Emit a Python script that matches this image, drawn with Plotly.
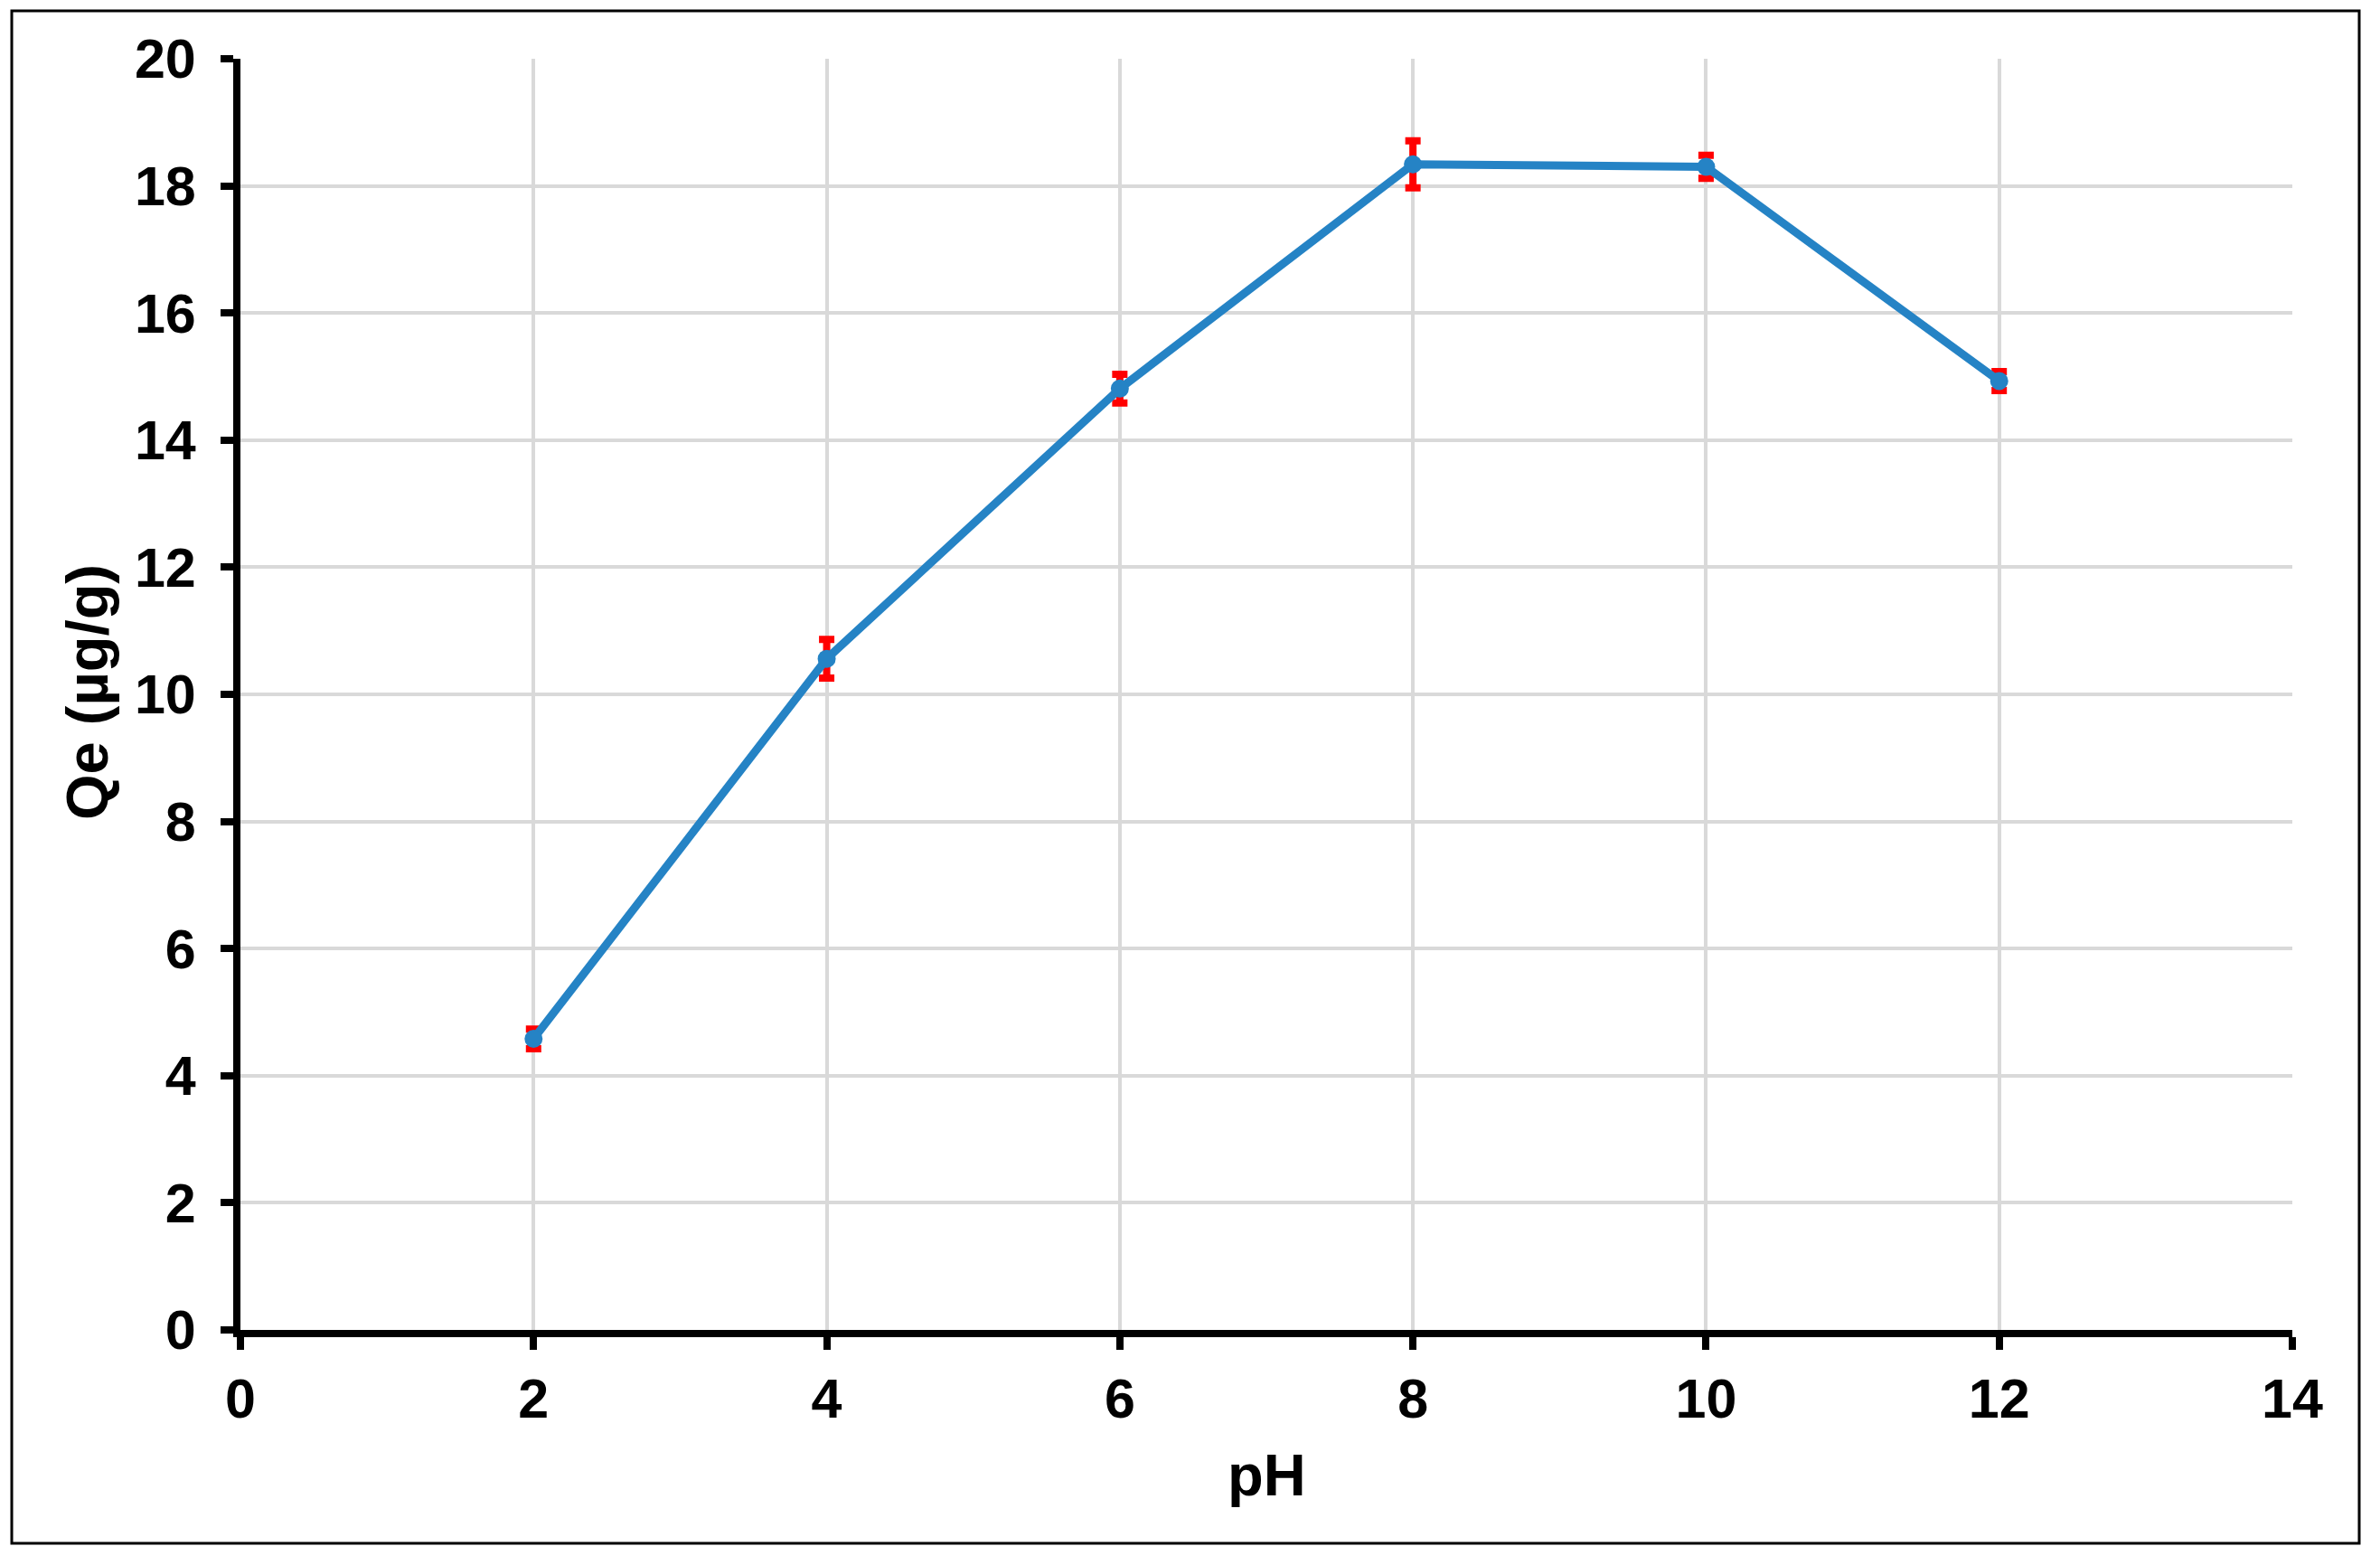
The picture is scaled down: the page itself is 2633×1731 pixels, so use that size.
import plotly.graph_objects as go

ph = [2, 4, 6, 8, 10, 12]
qe = [4.58, 10.56, 14.81, 18.34, 18.30, 14.93]
qe_err = [0.155, 0.305, 0.225, 0.37, 0.18, 0.15]

x_ticks = [0, 2, 4, 6, 8, 10, 12, 14]
y_ticks = [0, 2, 4, 6, 8, 10, 12, 14, 16, 18, 20]

# the page body has an 8px margin, so the figure is laid out 8px in
W, H = 2617, 1715
ml, mt = 258, 57
plot_right, plot_bottom = 2528, 1463
mr, mb = W - plot_right, H - plot_bottom
pw = plot_right - ml
ph_px = plot_bottom - mt

font_family = "Liberation Sans, Arial, sans-serif"
title_font = dict(size=65, family=font_family, weight="bold", color="black")
tick_font = dict(size=61, family=font_family, weight="bold", color="black")

fig = go.Figure()
fig.add_trace(go.Scatter(
    x=ph, y=qe,
    mode="lines+markers",
    line=dict(color="#2583C5", width=9),
    marker=dict(color="#2583C5", size=20),
    error_y=dict(type="data", array=qe_err, visible=True,
                 color="#FF0000", thickness=8, width=8.5),
    showlegend=False,
    cliponaxis=False,
))

# outer frame of the chart
fig.add_shape(type="rect", xref="paper", yref="paper",
              x0=(5 - ml) / pw, x1=(2602 - ml) / pw,
              y0=(plot_bottom - 1699) / ph_px, y1=(plot_bottom - 4) / ph_px,
              line=dict(color="black", width=3), fillcolor="rgba(0,0,0,0)",
              layer="below")

# axis titles
fig.add_annotation(text="Qe (µg/g)", xref="paper", yref="paper",
                   x=(88 - ml) / pw, y=(plot_bottom - 758) / ph_px,
                   xanchor="center", yanchor="middle", textangle=-90,
                   showarrow=False, font=title_font)
fig.add_annotation(text="pH", xref="paper", yref="paper",
                   x=0.5, y=(plot_bottom - 1624) / ph_px,
                   xanchor="center", yanchor="middle",
                   showarrow=False, font=title_font)

fig.update_layout(
    width=W, height=H,
    margin=dict(l=ml, r=mr, t=mt, b=mb, autoexpand=False),
    paper_bgcolor="white", plot_bgcolor="white",
    font=dict(family=font_family, color="black"),
)

common = dict(
    automargin=False,
    showline=True, linecolor="black", linewidth=8,
    ticks="outside", ticklen=14, tickwidth=8, tickcolor="black",
    showgrid=True, gridcolor="#D9D9D9", gridwidth=4,
    zeroline=False,
    tickfont=tick_font,
)
fig.update_xaxes(range=[0, 14], tickvals=x_ticks, ticktext=[str(v) for v in x_ticks],
                 ticklabelstandoff=2, **common)
fig.update_yaxes(range=[0, 20], tickvals=y_ticks, ticktext=[str(v) for v in y_ticks],
                 ticklabelstandoff=15, **common)

fig.write_html("out.html")
